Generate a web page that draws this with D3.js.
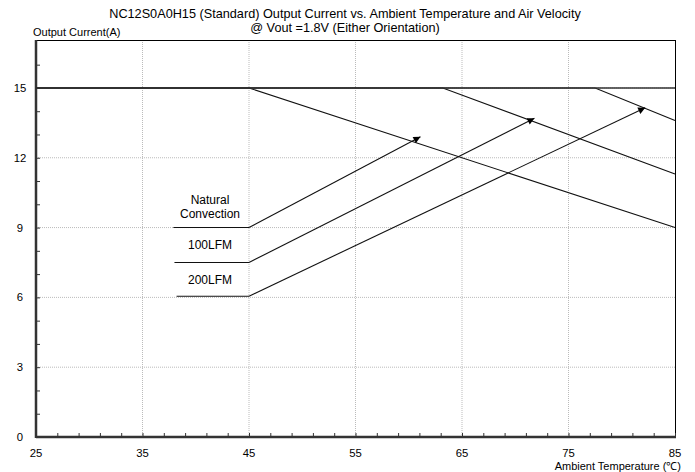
<!DOCTYPE html>
<html><head><meta charset="utf-8">
<script src="https://cdn.jsdelivr.net/npm/d3@7"></script>
<style>body{margin:0;background:#fff}svg{display:block}text{font-family:"Liberation Sans",Arial,sans-serif;fill:#000}</style>
</head><body>
<svg id="c" width="695" height="472"></svg>
<script>
const titleLines = ["NC12S0A0H15 (Standard) Output Current vs. Ambient Temperature and Air Velocity", "@ Vout =1.8V (Either Orientation)"];
const xTicks = [25, 35, 45, 55, 65, 75, 85];
const yTicks = [0, 3, 6, 9, 12, 15];
const seriesNames = ["Natural Convection", "100LFM", "200LFM"];
const naturalCurve = [[25, 15], [45, 15], [85, 9]];
const lfm100Curve = [[25, 15], [63.2, 15], [85, 11.3]];
const lfm200Curve = [[25, 15], [77.5, 15], [85, 13.6]];
const labelLevels = [9, 7.5, 6.05];
const labelStartX = [37.9, 38.0, 38.2];
const labelJoinX = 45;
const arrowEnds = [[61.1, 12.9], [71.8, 13.7], [82.2, 14.15]];

const svg = d3.select("#c");
const L = 36, R = 675, T = 40, B = 437;
const x = d3.scaleLinear().domain([25, 85]).range([L, R]);
const y = d3.scaleLinear().domain([0, 17.06]).range([B, T]);

// grid
const g = svg.append("g");
g.selectAll(".vg").data(xTicks.slice(1, -1)).join("line")
  .attr("x1", d => x(d)).attr("x2", d => x(d)).attr("y1", T).attr("y2", B)
  .attr("stroke", "#bbb").attr("stroke-width", 1).attr("stroke-dasharray", "1,1");
g.selectAll(".hg").data(yTicks.slice(1)).join("line")
  .attr("x1", L).attr("x2", R).attr("y1", d => y(d)).attr("y2", d => y(d))
  .attr("stroke", "#bbb").attr("stroke-width", 1).attr("stroke-dasharray", "1,1");

// frame top/right
svg.append("line").attr("x1", L).attr("x2", R).attr("y1", T + 0.5).attr("y2", T + 0.5).attr("stroke", "#000");
svg.append("line").attr("x1", R + 0.5).attr("x2", R + 0.5).attr("y1", T).attr("y2", B).attr("stroke", "#000");

// axes
const yAxis = d3.axisRight(y).tickValues(d3.range(0, 17, 1)).tickSize(4).tickFormat("");
const yA = svg.append("g").attr("transform", `translate(${L},0)`).call(yAxis);
const xAxis = d3.axisTop(x).tickValues(d3.range(25, 86, 2)).tickSize(4).tickFormat("");
const xA = svg.append("g").attr("transform", `translate(0,${B})`).call(xAxis);
[yA, xA].forEach(a => {
  a.select(".domain").remove();
  a.selectAll(".tick line").attr("stroke", "#333").attr("stroke-width", 1);
});
svg.append("line").attr("x1", L).attr("x2", R + 1).attr("y1", B).attr("y2", B).attr("stroke", "#333").attr("stroke-width", 2.5);
svg.append("line").attr("x1", L).attr("x2", L).attr("y1", T).attr("y2", B + 1).attr("stroke", "#333").attr("stroke-width", 2.5);

// tick labels
svg.selectAll(".xl").data(xTicks).join("text")
  .attr("x", d => x(d)).attr("y", 457).attr("text-anchor", "middle").attr("font-size", 11.3).text(d => d);
svg.selectAll(".yl").data(yTicks).join("text")
  .attr("x", 20).attr("y", d => y(d) + 4).attr("text-anchor", "middle").attr("font-size", 11.3).text(d => d);

// titles
svg.selectAll(".tt").data(titleLines).join("text")
  .attr("x", 345).attr("y", (d, i) => 17.5 + i * 14).attr("text-anchor", "middle").attr("font-size", 12.7).text(d => d);
svg.append("text").attr("x", 33).attr("y", 36).attr("font-size", 11).text("Output Current(A)");
svg.append("text").attr("x", 681).attr("y", 469.5).attr("text-anchor", "end").attr("font-size", 11).text("Ambient Temperature (℃)");

// curves
const line = d3.line().x(d => x(d[0])).y(d => y(d[1]));
[naturalCurve, lfm100Curve, lfm200Curve].forEach(c => {
  svg.append("path").attr("d", line(c)).attr("fill", "none").attr("stroke", "#111").attr("stroke-width", 1.1);
});
svg.append("line").attr("x1", L).attr("x2", R).attr("y1", y(15)).attr("y2", y(15)).attr("stroke", "#333").attr("stroke-width", 1.6);

// label segments and arrows
svg.append("defs").append("marker").attr("id", "ah").attr("viewBox", "0 0 10 10")
  .attr("refX", 10).attr("refY", 5).attr("markerWidth", 9).attr("markerHeight", 7)
  .attr("markerUnits", "userSpaceOnUse").attr("orient", "auto")
  .append("path").attr("d", "M0,0L10,5L0,10z").attr("fill", "#000");
labelLevels.forEach((lv, i) => {
  svg.append("line").attr("x1", x(labelStartX[i])).attr("x2", x(labelJoinX)).attr("y1", y(lv)).attr("y2", y(lv))
    .attr("stroke", "#111").attr("stroke-width", 1.1);
  svg.append("line").attr("x1", x(labelJoinX)).attr("y1", y(lv)).attr("x2", x(arrowEnds[i][0])).attr("y2", y(arrowEnds[i][1]))
    .attr("stroke", "#111").attr("stroke-width", 1.1).attr("marker-end", "url(#ah)");
});

// series labels
const labelPos = [[["Natural", 10.03], ["Convection", 9.41]], [["100LFM", 8.08]], [["200LFM", 6.57]]];
labelPos.forEach(lines => lines.forEach(([t, v]) => {
  svg.append("text").attr("x", 210).attr("y", y(v)).attr("text-anchor", "middle").attr("font-size", 12).text(t);
}));
</script>
</body></html>
